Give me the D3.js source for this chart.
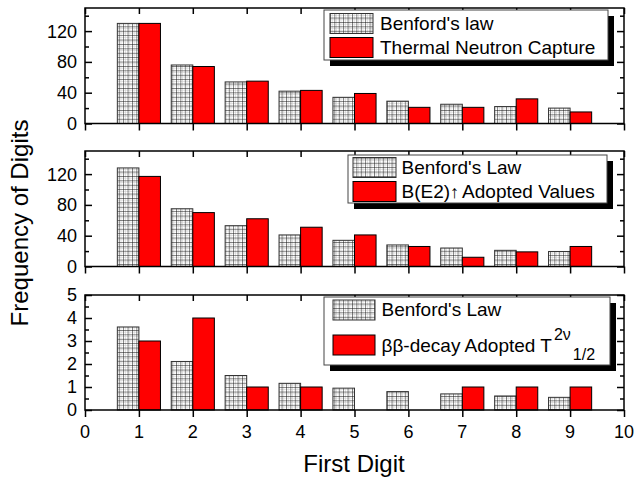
<!DOCTYPE html>
<html>
<head>
<meta charset="utf-8">
<script src="https://cdn.jsdelivr.net/npm/d3@7"></script>
<style>
  body { margin: 0; background: #fff; }
  text { font-family: 'Liberation Sans', Arial, Helvetica, sans-serif; fill: #000; }
</style>
</head>
<body>
<svg id="chart" width="634" height="478"></svg>
<script>
/*** DATA ***/
var digits = [1, 2, 3, 4, 5, 6, 7, 8, 9];
var xTickValues = [0, 1, 2, 3, 4, 5, 6, 7, 8, 9, 10];

//panel 1: thermal neutron capture
var benfordThermal = [130, 76, 54, 42, 34, 29, 25, 22, 20];
var thermalCapture = [130, 74, 55, 43, 39, 21, 21, 32, 15];

//panel 2: B(E2) adopted values
var benfordBE2 = [128, 75, 53, 41, 34, 28, 24, 21, 19.5];
var adoptedBE2 = [117, 70, 62, 51, 41, 26, 12, 19, 26];

//panel 3: double beta decay
var benfordBB = [3.61, 2.11, 1.50, 1.16, 0.95, 0.80, 0.70, 0.61, 0.55];
var adoptedBB = [3, 4, 1, 1, 0, 0, 1, 1, 1];

var countMajorTicks = [0, 40, 80, 120];
var countMinorTicks = [20, 60, 100, 140];
var bbMajorTicks = [0, 1, 2, 3, 4, 5];
var bbMinorTicks = [0.5, 1.5, 2.5, 3.5, 4.5];

var legendBenford = ["Benford's law", "Benford's Law", "Benford's Law"];
var legendData = ['Thermal Neutron Capture', 'B(E2)', '\u03b2\u03b2-decay Adopted T'];

/*** LAYOUT ***/
var svg = d3.select('#chart');
var xLeft = 85, xRight = 624;
var barWidth = 0.4;

var x = d3.scaleLinear().domain([0, 10]).range([xLeft, xRight]);

var panels = [
  { top: 8, bottom: 123.5, max: 150, major: countMajorTicks, minor: countMinorTicks,
    benford: benfordThermal, values: thermalCapture, fmt: d3.format('d'),
    legend: { x: 324, y: 10, w: 284, h: 50, sx: 330, sw: 43, text: 380, rows: [13.5, 37.5], base: [29.5, 53.5] } },
  { top: 151, bottom: 266.5, max: 150, major: countMajorTicks, minor: countMinorTicks,
    benford: benfordBE2, values: adoptedBE2, fmt: d3.format('d'),
    legend: { x: 348, y: 155, w: 259, h: 48, sx: 353, sw: 43, text: 401.5, rows: [157.5, 181.5], base: [173.5, 197.5] } },
  { top: 295, bottom: 410, max: 5, major: bbMajorTicks, minor: bbMinorTicks,
    benford: benfordBB, values: adoptedBB, fmt: d3.format('d'),
    legend: { x: 324, y: 297, w: 286, h: 68, sx: 333, sw: 42, text: 381.5, rows: [300, 335], base: [316, 352] } }
];

//hatch pattern for Benford bars
var defs = svg.append('defs');
var pat = defs.append('pattern')
  .attr('id', 'grid')
  .attr('patternUnits', 'userSpaceOnUse')
  .attr('width', 4.4)
  .attr('height', 4.4);
pat.append('rect').attr('width', 4.4).attr('height', 4.4).attr('fill', '#fff');
pat.append('path').attr('d', 'M2.2,0V4.4M0,2.2H4.4').attr('stroke', '#c4c4c4').attr('stroke-width', 0.5);
pat.append('path').attr('d', 'M0.3,0V4.4M0,0.3H4.4').attr('stroke', '#111').attr('stroke-width', 0.6);

panels.forEach(function(p, i) {
  var y = d3.scaleLinear().domain([0, p.max]).range([p.bottom, p.top]);
  var g = svg.append('g').attr('class', 'panel-' + i);

  //bars
  g.selectAll('.benford')
    .data(digits)
    .enter().append('rect')
    .attr('x', function(d) { return x(d - barWidth); })
    .attr('width', function(d) { return x(d) - x(d - barWidth); })
    .attr('y', function(d, j) { return y(p.benford[j]); })
    .attr('height', function(d, j) { return y(0) - y(p.benford[j]); })
    .attr('fill', 'url(#grid)')
    .attr('stroke', '#333')
    .attr('stroke-width', 1);

  g.selectAll('.data')
    .data(digits)
    .enter().append('rect')
    .attr('x', function(d) { return x(d); })
    .attr('width', function(d) { return x(d + barWidth) - x(d); })
    .attr('y', function(d, j) { return y(p.values[j]); })
    .attr('height', function(d, j) { return y(0) - y(p.values[j]); })
    .attr('fill', '#ff0000')
    .attr('stroke', '#000')
    .attr('stroke-width', 1)
    .attr('display', function(d, j) { return p.values[j] > 0 ? null : 'none'; });

  //axes
  g.append('g').attr('transform', 'translate(' + xLeft + ',0)')
    .call(d3.axisRight(y).tickValues(p.major).tickSize(7).tickFormat(''));
  g.append('g').attr('transform', 'translate(' + xLeft + ',0)')
    .call(d3.axisRight(y).tickValues(p.minor).tickSize(4).tickFormat(''));
  g.append('g').attr('transform', 'translate(' + xRight + ',0)')
    .call(d3.axisLeft(y).tickValues(p.major).tickSize(7).tickFormat(''));
  g.append('g').attr('transform', 'translate(' + xRight + ',0)')
    .call(d3.axisLeft(y).tickValues(p.minor).tickSize(4).tickFormat(''));
  g.append('g').attr('transform', 'translate(0,' + p.top + ')')
    .call(d3.axisBottom(x).tickValues(xTickValues).tickSize(6).tickFormat(''));
  g.append('g').attr('transform', 'translate(0,' + p.bottom + ')')
    .call(d3.axisBottom(x).tickValues(xTickValues).tickSize(7).tickFormat(''));

  g.selectAll('.domain').attr('stroke', 'none');
  g.selectAll('.tick line').attr('stroke', '#000').attr('stroke-width', 1.5);

  //frame
  g.append('rect')
    .attr('x', xLeft).attr('y', p.top)
    .attr('width', xRight - xLeft).attr('height', p.bottom - p.top)
    .attr('fill', 'none').attr('stroke', '#000').attr('stroke-width', 1.5);

  //y tick labels
  g.selectAll('.ylab')
    .data(p.major)
    .enter().append('text')
    .attr('x', xLeft - 8)
    .attr('y', function(d) { return y(d); })
    .attr('dy', '0.36em')
    .attr('text-anchor', 'end')
    .style('font-size', '18px')
    .text(p.fmt);

  //x tick labels, bottom panel only
  if (i == panels.length - 1) {
    g.selectAll('.xlab')
      .data(xTickValues)
      .enter().append('text')
      .attr('x', function(d) { return x(d); })
      .attr('y', 438)
      .attr('text-anchor', 'middle')
      .style('font-size', '18px')
      .text(function(d) { return d; });
  }

  createLegend(g, p.legend, i);
});

function createLegend(g, L, i) {
  //shadow + box
  g.append('rect')
    .attr('x', L.x + 6).attr('y', L.y + 6)
    .attr('width', L.w).attr('height', L.h)
    .attr('fill', '#000');
  g.append('rect')
    .attr('x', L.x).attr('y', L.y)
    .attr('width', L.w).attr('height', L.h)
    .attr('fill', '#fff').attr('stroke', '#444').attr('stroke-width', 1);

  //swatches
  g.append('rect')
    .attr('x', L.sx).attr('y', L.rows[0])
    .attr('width', L.sw).attr('height', 20)
    .attr('fill', 'url(#grid)').attr('stroke', '#333');
  g.append('rect')
    .attr('x', L.sx).attr('y', L.rows[1])
    .attr('width', L.sw).attr('height', 20)
    .attr('fill', '#ff0000').attr('stroke', '#000');

  g.append('text')
    .attr('x', L.text).attr('y', L.base[0])
    .style('font-size', '19px')
    .text(legendBenford[i]);

  var t = g.append('text')
    .attr('x', L.text).attr('y', L.base[1])
    .style('font-size', '19px')
    .text(legendData[i]);

  if (i == 1) {
    t.append('tspan').style('font-size', '18px').style('font-weight', 'bold').text('\u2191');
    t.append('tspan').attr('dx', 3).style('font-weight', 'normal').text('Adopted Values');
  }
  if (i == 2) {
    t.append('tspan').attr('dx', 2).attr('dy', -12).style('font-size', '16px').text('2\u03bd');
    t.append('tspan').attr('dx', 2).attr('dy', 20).style('font-size', '16px').text('1/2');
  }
}

//axis titles
svg.append('text')
  .attr('transform', 'translate(28,223) rotate(-90)')
  .attr('text-anchor', 'middle')
  .style('font-size', '24px')
  .text('Frequency of Digits');

svg.append('text')
  .attr('x', 354)
  .attr('y', 472)
  .attr('text-anchor', 'middle')
  .style('font-size', '24px')
  .text('First Digit');
</script>
</body>
</html>
